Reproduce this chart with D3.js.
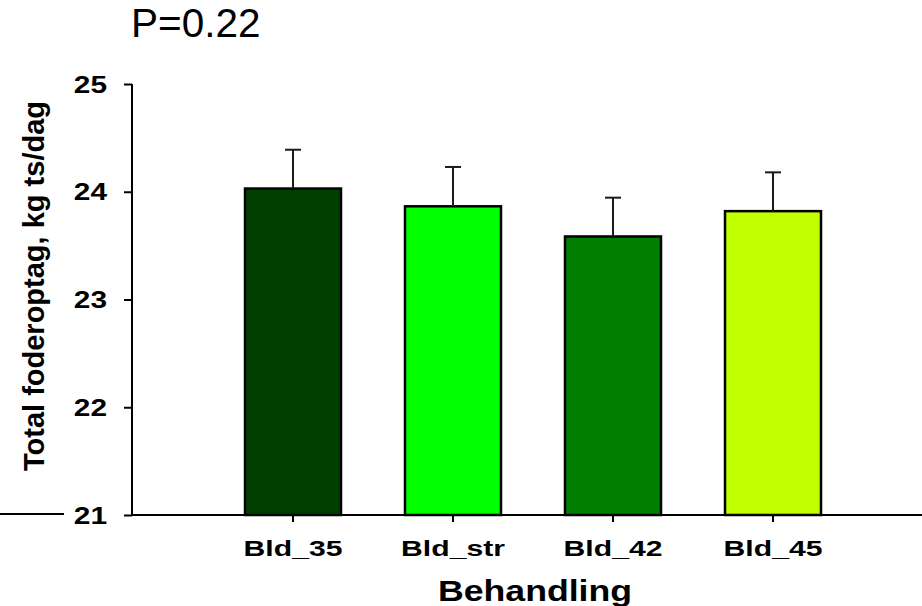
<!DOCTYPE html>
<html>
<head>
<meta charset="utf-8">
<script src="https://cdn.jsdelivr.net/npm/d3@7"></script>
<style>
  body { margin: 0; background: #fff; }
  text { font-family: Arial, "Liberation Sans", sans-serif; }
</style>
</head>
<body>
<svg id="canvas"></svg>
<script>
// data
const treatments = ["Bld_35", "Bld_str", "Bld_42", "Bld_45"];
const means = [24.03, 23.865, 23.585, 23.82];
const sems = [0.36, 0.365, 0.36, 0.36];
const barColors = ["#003f00", "#00ff00", "#007f00", "#bfff00"];
const yTicks = [21, 22, 23, 24, 25];
const title = "P=0.22";
const xTitle = "Behandling";
const yTitle = "Total foderoptag, kg ts/dag";

let width = 922;
let height = 606;

let canvas = d3.select("#canvas")
    .attr("width", width)
    .attr("height", height);

let xScale = d3.scaleBand()
    .domain(treatments)
    .range([213, 853])
    .paddingInner(0.4)
    .paddingOuter(0.2);

let yScale = d3.scaleLinear()
    .domain([21, 25])
    .range([515, 84]);

// stretched bold text, like the original export
let wideText = (g, x, y, str, size, sx, anchor) => {
    return g.append("text")
        .attr("transform", `translate(${x},${y}) scale(${sx},1)`)
        .attr("text-anchor", anchor)
        .attr("font-size", size)
        .attr("font-weight", "bold")
        .attr("fill", "#000")
        .text(str);
};

// bars
canvas.append("g")
    .selectAll("rect")
    .data(treatments)
    .enter()
    .append("rect")
    .attr("x", d => xScale(d))
    .attr("y", (d, i) => yScale(means[i]))
    .attr("width", xScale.bandwidth())
    .attr("height", (d, i) => yScale(21) - yScale(means[i]))
    .attr("fill", (d, i) => barColors[i])
    .attr("stroke", "#000")
    .attr("stroke-width", 2.5);

// error bars (upper only)
let err = canvas.append("g")
    .attr("stroke", "#1a1a1a")
    .attr("stroke-width", 2);
treatments.forEach((d, i) => {
    let cx = xScale(d) + xScale.bandwidth() / 2;
    err.append("line")
        .attr("x1", cx).attr("x2", cx)
        .attr("y1", yScale(means[i]))
        .attr("y2", yScale(means[i] + sems[i]));
    err.append("line")
        .attr("x1", cx - 8).attr("x2", cx + 8)
        .attr("y1", yScale(means[i] + sems[i]))
        .attr("y2", yScale(means[i] + sems[i]));
});

// y axis
let yAxis = d3.axisLeft(yScale).tickValues(yTicks).tickSize(8).tickFormat("");
let yG = canvas.append("g")
    .attr("transform", "translate(132,0)")
    .call(yAxis);
yG.select(".domain").attr("stroke", "#000").attr("stroke-width", 2).attr("d", "M0,84V515");
yG.selectAll(".tick line").attr("stroke", "#000").attr("stroke-width", 2);
yTicks.forEach(t => {
    wideText(canvas, 107, yScale(t) + 8.5, String(t), 23.5, 1.27, "end");
});

// x axis
let xAxis = d3.axisBottom(xScale).tickSize(7).tickFormat("");
let xG = canvas.append("g")
    .attr("transform", "translate(0,515)")
    .call(xAxis);
xG.select(".domain").attr("stroke", "#000").attr("stroke-width", 2).attr("d", "M132,0H922");
xG.selectAll(".tick line").attr("stroke", "#000").attr("stroke-width", 2);
treatments.forEach(d => {
    wideText(canvas, xScale(d) + xScale.bandwidth() / 2, 556, d, 22.5, 1.34, "middle");
});

// stray line at lower left
canvas.append("line")
    .attr("x1", 0).attr("x2", 64)
    .attr("y1", 514).attr("y2", 514)
    .attr("stroke", "#000")
    .attr("stroke-width", 2);

// titles
wideText(canvas, 535, 601, xTitle, 29, 1.23, "middle");

canvas.append("text")
    .attr("transform", "translate(44,286) rotate(-90)")
    .attr("text-anchor", "middle")
    .attr("font-size", 29)
    .attr("font-weight", "bold")
    .text(yTitle);

canvas.append("text")
    .attr("x", 131)
    .attr("y", 37)
    .attr("font-size", 40.5)
    .text(title);
</script>
</body>
</html>
